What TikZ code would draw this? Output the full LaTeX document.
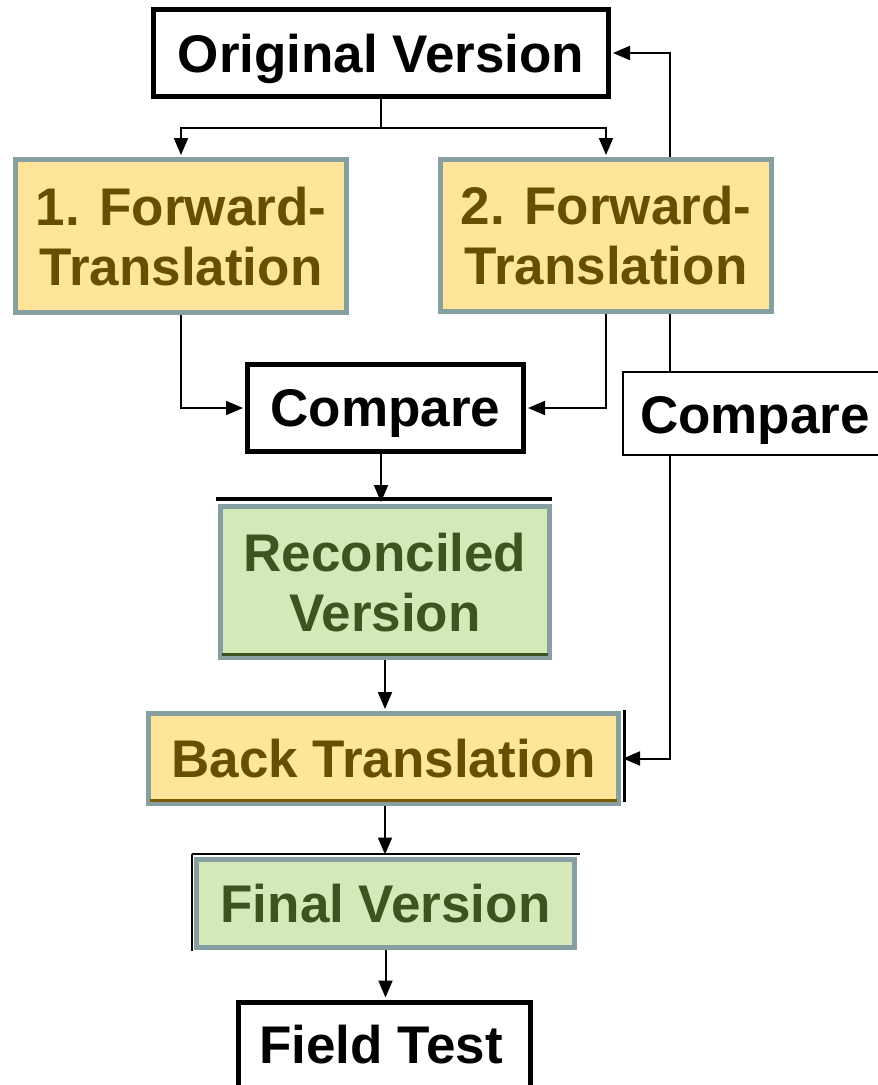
\documentclass[tikz,border=0pt]{standalone}
\usepackage{fontspec}
\setmainfont{Liberation Sans}
\usetikzlibrary{arrows.meta,backgrounds,calc}
\definecolor{yfill}{HTML}{FFE599}
\definecolor{ytext}{HTML}{684F00}
\definecolor{gfill}{HTML}{D5E9B8}
\definecolor{gtext}{HTML}{3D5421}
\definecolor{bgray}{HTML}{86A0A2}
\definecolor{ydark}{HTML}{7A5A00}
\newcommand{\bigtxt}{\fontsize{53}{60}\selectfont\bfseries}
\tikzset{
  base/.style={inner sep=0pt, align=center, font=\bigtxt, text depth=0pt},
  wbox/.style={base, draw=black, line width=5pt, fill=white},
  thinbox/.style={base, draw=black, line width=2pt, fill=white},
  ybox/.style={base, draw=bgray, line width=5pt, fill=yfill, text=ytext},
  gbox/.style={base, draw=bgray, line width=5pt, fill=gfill, text=gtext},
  arr/.style={-{Triangle[length=17pt,width=14pt]}, line width=2pt, shorten >=2pt},
  conn/.style={line width=2pt},
  edge/.style={line width=4pt}
}
\begin{document}
\begin{tikzpicture}[x=1pt,y=-1pt]
\useasboundingbox (0,0) rectangle (878,1085);
\clip (0,0) rectangle (878,1085);
% nodes
\node[wbox, minimum width=455, minimum height=87] (orig) at (381,53) {Original Version};
\node[ybox, minimum width=331, minimum height=153] (f1) at (181,236) {1. Forward-\\Translation};
\node[ybox, minimum width=331, minimum height=152] (f2) at (606,235.5) {2. Forward-\\Translation};
\node[wbox, minimum width=276, minimum height=87] (c1) at (385.5,408) {Compare};
\node[thinbox, minimum width=290, minimum height=83] (c2) at (768,413.5) {};
\node[base, anchor=west] (c2t) at (640,414.5) {Compare};
\node[gbox, minimum width=329, minimum height=151] (rec) at (385,582) {Reconciled\\Version};
\node[ybox, minimum width=470, minimum height=90] (back) at (383.5,758.5) {Back Translation};
\node[gbox, minimum width=378, minimum height=88] (fin) at (385.5,903) {Final Version};
\node[wbox, minimum width=292, minimum height=160] (field) at (384.5,1082) {};
\node[base, anchor=base] (fieldt) at (381,1063) {Field Test};
% decorative edge lines
\draw[edge] (rec.north west) ++(-2.5,-5) coordinate (r1) -- (r1 -| rec.north east) coordinate (r2);
\draw[line width=3pt, gtext] ($(rec.south west)+(4,-6)$) -- ($(rec.south east)+(-4,-6)$);
\draw[line width=3pt, ydark] ($(back.south west)+(4,-6)$) -- ($(back.south east)+(-4,-6)$);
\draw[line width=2.5pt] ($(back.north east)+(3.5,-1)$) -- ($(back.south east)+(3.5,-4)$);
\draw[line width=2.5pt] ($(fin.north west)+(-2.5,-2.5)$) -- ($(fin.north east)+(2.5,-2.5)$);
\draw[line width=2pt] ($(fin.north west)+(-2.5,-3)$) -- ($(fin.south west)+(-2.5,1)$);
% connectors
\coordinate (split) at (381,128);
\coordinate (v) at (670,0);
\begin{scope}[on background layer]
\draw[conn] (orig.south) -- (split);
\draw[arr] (split) -| (f1.north);
\draw[arr] (split) -| (f2.north);
\draw[arr] (f2.south -| v) -- (f2.north -| v) |- (orig.east);
\draw[conn] (f2.south -| v) -- (c2.north -| v);
\draw[arr] (c2.south -| v) |- (back.east);
\draw[arr] (f1.south) |- (c1.west);
\draw[arr] (f2.south) |- (c1.east);
\draw[arr] (c1.south -| 381,0) -- (rec.north -| 381,0);
\draw[arr] (rec.south) -- (rec.south |- back.north);
\draw[arr] (back.south -| rec.south) -- (fin.north -| rec.south);
\draw[arr] (fin.south) -- (fin.south |- field.north);
\end{scope}
\end{tikzpicture}
\end{document}
